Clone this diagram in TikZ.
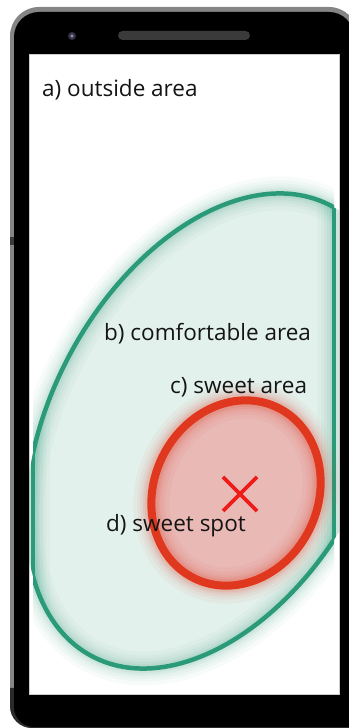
\documentclass[tikz,border=0pt]{standalone}
\usepackage{fontspec}
\usetikzlibrary{calc}
\setmainfont{Open Sans}
\definecolor{framegray}{HTML}{858585}
\definecolor{framedark}{HTML}{2A2A2A}
\definecolor{speaker}{HTML}{3A3A3A}
\definecolor{cam}{HTML}{35324A}
\definecolor{greenline}{HTML}{2B9A78}
\definecolor{greenfill}{HTML}{E3F1EC}
\definecolor{redline}{HTML}{E0371F}
\definecolor{redfill}{HTML}{E9B9B5}
\definecolor{redx}{HTML}{EE1B1B}
\definecolor{txt}{HTML}{141414}
\tikzset{
  lbl/.style={anchor=base west, inner sep=0pt, text=txt, font=\fontsize{22.5}{27}\selectfont},
  greenedge/.style={draw=greenline, line width=4.5pt},
  rededge/.style={draw=redline, line width=8pt},
}
\newcommand\greenshape{(211.5,297) ellipse [x radius=255, y radius=161, rotate=62]}
\newcommand\redshape{(236,235) ellipse [x radius=95, y radius=82, rotate=64]}
\newcommand\greenbdry[1]{%
  \begin{scope}\clip (33,0) rectangle (334,728); \draw[#1] \greenshape; \end{scope}%
  \begin{scope}\clip \greenshape; \draw[#1] (33,0) -- (33,728) (334,0) -- (334,728); \end{scope}}
\begin{document}
\begin{tikzpicture}[x=1pt,y=1pt]
\useasboundingbox (0,0) rectangle (348,728);
% phone body
\fill[framegray] (358,0) [rounded corners=22pt] -- (10,0) [rounded corners=29pt] -- (10,721) -- (358,721) [sharp corners] -- (358,0) -- cycle;
\fill[framedark] (358,0) [rounded corners=22pt] -- (10,0) [sharp corners] -- (10,40) -- (358,40) -- cycle;
\fill[black] (354,1) [rounded corners=20pt] -- (14,1) [rounded corners=25pt] -- (14,716) -- (354,716) [sharp corners] -- (354,1) -- cycle;
\fill[speaker] (10,483) rectangle (14,491);
% screen
\node[draw=black!20, fill=white, line width=0.8pt, minimum width=310pt, minimum height=640pt, inner sep=0pt] (screen) at (184,354) {};
% speaker & camera
\node[fill=speaker, rounded corners=4.5pt, minimum width=132pt, minimum height=9pt, inner sep=0pt] (spk) at (184,692.5) {};
\node[circle, fill=cam, minimum size=8pt, inner sep=0pt] (camera) at (72,692) {};
\fill[cam!50!white] (72,692) circle (1.6pt);
% content area
\begin{scope}
\clip (29,34) rectangle (339,674);
% green area
\begin{scope}
  \clip (33,0) rectangle (334,728);
  \fill[greenfill] \greenshape;
\end{scope}
\foreach \w/\o in {34/0.035, 26/0.04, 20/0.05, 14/0.06, 9/0.08} {
  \greenbdry{draw=greenline, line width=\w pt, opacity=\o}
}
\greenbdry{greenedge}
% red area
\fill[redfill] \redshape;
\foreach \w/\o in {36/0.04, 28/0.05, 22/0.06, 17/0.08, 13/0.1} {
  \draw[redline, line width=\w pt, opacity=\o] \redshape;
}
\draw[rededge] \redshape;
\end{scope}
% sweet spot mark
\coordinate (xc) at (240,234);
\draw[redx, line width=3.8pt] ($(xc)+(-17,17)$) -- ($(xc)+(17,-17)$) ($(xc)+(-17,-17)$) -- ($(xc)+(17,17)$);
% labels
\node[lbl] (la) at (42,631.3) {a) outside area};
\node[lbl] (lb) at (104,387) {b) comfortable area};
\node[lbl] (lc) at (170,334) {c) sweet area};
\node[lbl] (ld) at (106,196) {d) sweet spot};
\end{tikzpicture}
\end{document}
